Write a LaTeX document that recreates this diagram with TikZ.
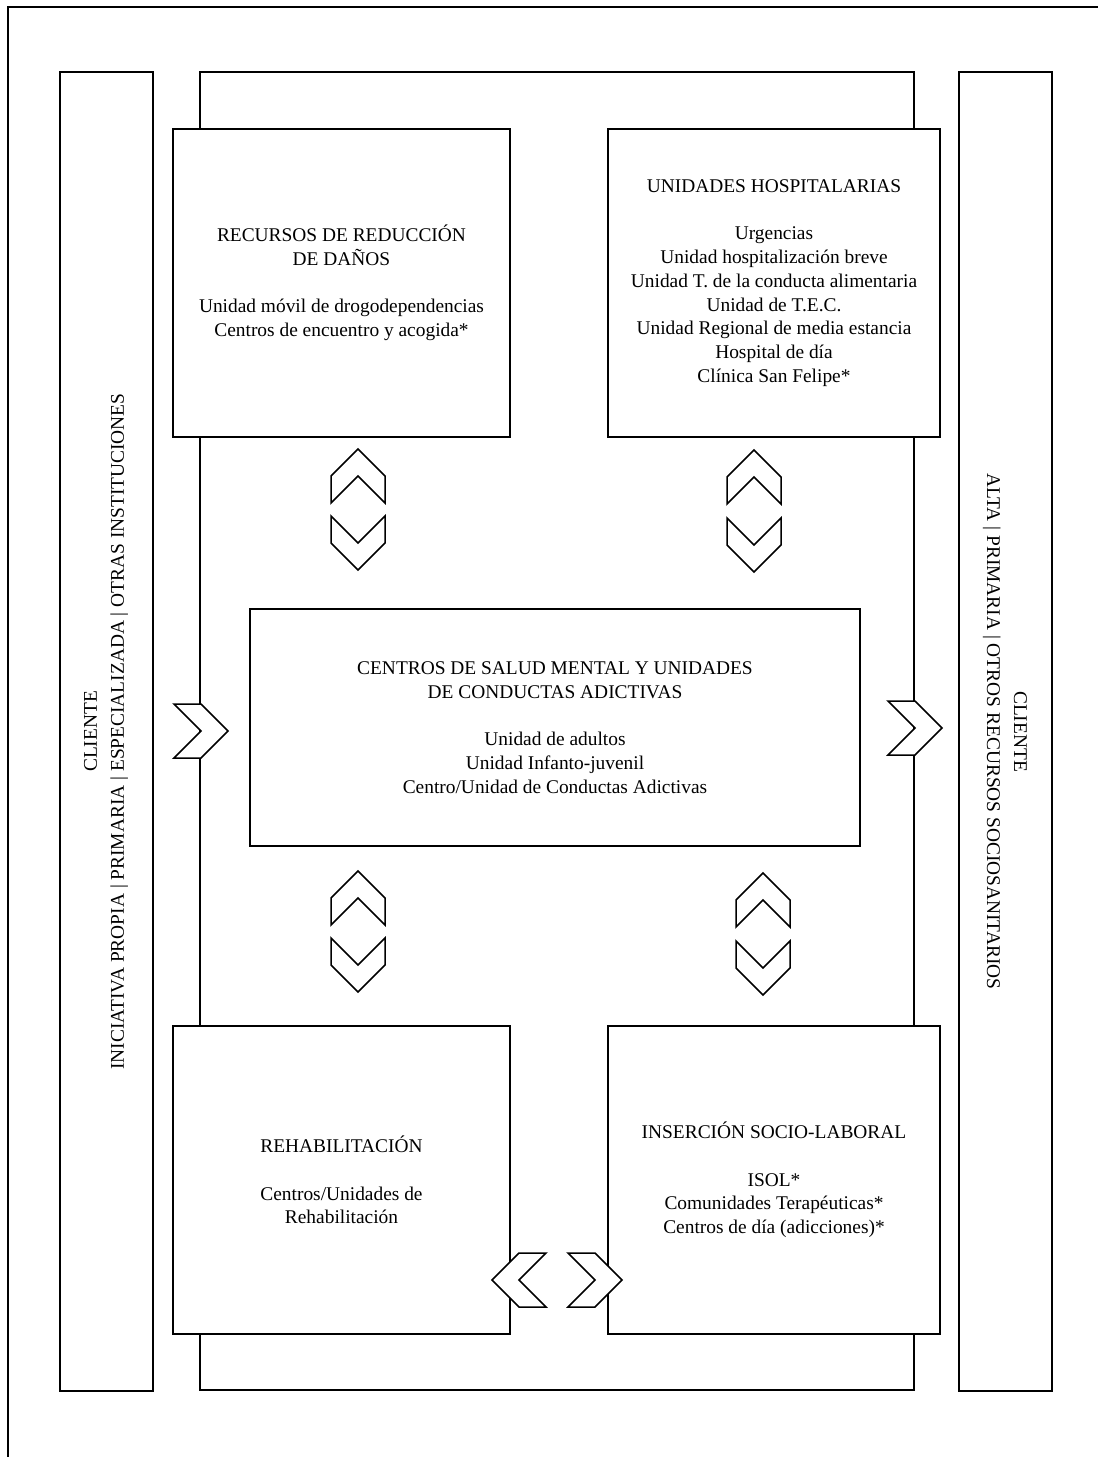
\documentclass[tikz,border=0pt]{standalone}
\usepackage{fontspec}
\setmainfont{Liberation Serif}
\tikzset{
  caja/.style={draw, fill=white, line width=2pt, align=center, inner sep=0pt,
    font=\fontsize{19.4}{23.7}\selectfont},
  barra/.style={draw, line width=2pt, align=center, inner sep=0pt,
    minimum width=1319pt, minimum height=93pt,
    font=\fontsize{19.4}{27}\selectfont},
  chev/.style={draw, fill=white, line width=1.5pt},
}
% chevron: x, y, angle (0 = right)
\newcommand{\flecha}[3]{\draw[chev, shift={(#1,#2)}, rotate=#3]
  (-27,-27) -- (0,-27) -- (27,0) -- (0,27) -- (-27,27) -- (0,0) -- cycle;}
\begin{document}
\begin{tikzpicture}[x=1pt, y=-1pt]
  \useasboundingbox (0,0) rectangle (1098,1457);
  \draw[line width=2.5pt] (8,1457) -- (8,7) -- (1098,7);

  % red de recursos
  \node[draw, line width=2pt, minimum width=714pt, minimum height=1318pt, inner sep=0pt] (red) at (557,731) {};

  \node[barra, rotate=90] (entrada) at (106,731.5)
    {CLIENTE\\INICIATIVA PROPIA | PRIMARIA | ESPECIALIZADA | OTRAS INSTITUCIONES};
  \node[barra, rotate=-90] (salida) at (1005,731.5)
    {CLIENTE\\ALTA | PRIMARIA | OTROS RECURSOS SOCIOSANITARIOS};

  \node[caja, minimum width=337pt, minimum height=308pt] (danos) at (341.5,283)
    {RECURSOS DE REDUCCIÓN\\DE DAÑOS\\[23.7pt]Unidad móvil de drogodependencias\\Centros de encuentro y acogida*};
  \node[caja, minimum width=332pt, minimum height=308pt] (hospital) at (774,283)
    {UNIDADES HOSPITALARIAS\\[23.7pt]Urgencias\\Unidad hospitalización breve\\Unidad T. de la conducta alimentaria\\Unidad de T.E.C.\\Unidad Regional de media estancia\\Hospital de día\\Clínica San Felipe*};
  \node[caja, minimum width=610pt, minimum height=237pt] (salud) at (555,727.5)
    {CENTROS DE SALUD MENTAL Y UNIDADES\\DE CONDUCTAS ADICTIVAS\\[23.7pt]Unidad de adultos\\Unidad Infanto-juvenil\\Centro/Unidad de Conductas Adictivas};
  \node[caja, minimum width=337pt, minimum height=308pt] (rehab) at (341.5,1180)
    {REHABILITACIÓN\\[23.7pt]Centros/Unidades de\\Rehabilitación};
  \node[caja, minimum width=332pt, minimum height=308pt] (insercion) at (774,1180)
    {INSERCIÓN SOCIO-LABORAL\\[23.7pt]ISOL*\\Comunidades Terapéuticas*\\Centros de día (adicciones)*};

  % flechas
  \flecha{201}{731}{0}
  \flecha{915}{728}{0}
  \flecha{358}{476}{90}
  \flecha{358}{543}{-90}
  \flecha{754}{477}{90}
  \flecha{754}{545}{-90}
  \flecha{358}{898}{90}
  \flecha{358}{965}{-90}
  \flecha{763}{900}{90}
  \flecha{763}{968}{-90}
  \flecha{519}{1280}{180}
  \flecha{595}{1280}{0}
\end{tikzpicture}
\end{document}
